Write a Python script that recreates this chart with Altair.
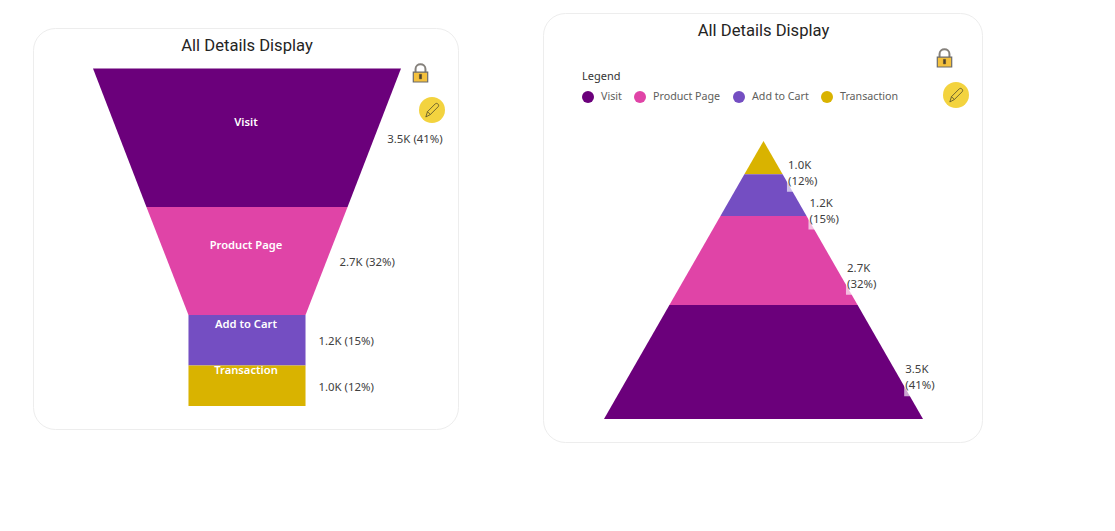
import altair as alt
import pandas as pd

stages = ["Visit", "Product Page", "Add to Cart", "Transaction"]
values = ["3.5K", "2.7K", "1.2K", "1.0K"]
shares = [41, 32, 15, 12]
funnel_top = [100, 65.3, 38, 38]
funnel_bottom = [65.3, 38, 38, 38]
colors = ["#6B007B", "#E044A7", "#744EC2", "#D9B300"]

LABEL_FONT = "Noto Sans"
TITLE_FONT = "Roboto"

fun, fun_lab = [], []
c = 0
for s, v, p, a, b in zip(stages, values, shares, funnel_top, funnel_bottom):
    fun.append(dict(stage=s, y=c, lo=-a / 2, hi=a / 2))
    fun.append(dict(stage=s, y=c + p, lo=-b / 2, hi=b / 2))
    fun_lab.append(dict(stage=s, y=c + p / 2, x=(a + b) / 4, label=f"{v} ({p}%)"))
    c += p
fun, fun_lab = pd.DataFrame(fun), pd.DataFrame(fun_lab)

pyr, pyr_lab = [], []
c = 0
for s, v, p in reversed(list(zip(stages, values, shares))):
    pyr.append(dict(stage=s, y=c, lo=-c / 2, hi=c / 2))
    pyr.append(dict(stage=s, y=c + p, lo=-(c + p) / 2, hi=(c + p) / 2))
    mid = c + p / 2 + 5.5
    pyr_lab.append(dict(stage=s, y=mid, x=mid / 2 + 1.95, px=mid / 2 + 1.6, px2=mid / 2 + 12,
                        y0=mid + 3.0, y1=mid + 6.8, label=f"{v}\n({p}%)"))
    c += p
pyr, pyr_lab = pd.DataFrame(pyr), pd.DataFrame(pyr_lab)

xF = alt.Scale(domain=[-50, 50], range=[85, 393])
yF = alt.Scale(domain=[0, 100], range=[60.5, 398])
xP = alt.Scale(domain=[-50, 50], range=[596, 915])
yP = alt.Scale(domain=[0, 100], range=[133, 411])


def card(x0, x1, y0, y1):
    return alt.Chart().mark_rect(fill="white", stroke="#EDEDED", strokeWidth=1, cornerRadius=22).encode(
        x=alt.value(x0), x2=alt.value(x1), y=alt.value(y0), y2=alt.value(y1))


def title(x, y):
    return alt.Chart().mark_text(text="All Details Display", font=TITLE_FONT, fontSize=16.6,
                                 color="#252423", align="center", baseline="middle").encode(
        x=alt.value(x), y=alt.value(y))


def shape(path, x, y, size, **kw):
    return alt.Chart().mark_point(shape=path, size=size, opacity=1, **kw).encode(
        x=alt.value(x), y=alt.value(y))


def lock(x, y):
    return [
        shape("M-0.55 0 V-0.45 C-0.55 -1.15 0.55 -1.15 0.55 -0.45 V0", x, y, 324,
              filled=False, stroke="#85817C", strokeWidth=2),
        shape("M-0.8 -0.1 H0.8 V1 H-0.8 Z", x, y, 324, filled=True, fill="#F4C13D",
              stroke="#6B6B6B", strokeWidth=1.2),
        shape("M-0.12 0.15 H0.12 V0.65 H-0.12 Z", x, y, 324, filled=True, fill="#4A4030",
              stroke="#4A4030", strokeWidth=0.5),
    ]


def pencil(x, y):
    return [
        alt.Chart().mark_circle(size=676, color="#F3D33F", opacity=1).encode(
            x=alt.value(x), y=alt.value(y)),
        shape("M-0.75 0.85 L-0.55 0.2 L0.4 -0.75 C0.6 -0.95 0.95 -0.6 0.75 -0.4 L-0.2 0.55 Z M-0.55 0.2 L-0.2 0.55",
              x, y, 270, filled=False, stroke="#4F4A2A", strokeWidth=0.8),
    ]


color_plain = alt.Color("stage:N", scale=alt.Scale(domain=stages, range=colors), legend=None)
color_legend = alt.Color("stage:N", scale=alt.Scale(domain=stages, range=colors), legend=alt.Legend(
    orient="none", legendX=574, legendY=63, direction="horizontal", title="Legend",
    titleFont=LABEL_FONT, titleFontSize=11, titleFontWeight="normal", titleColor="#333333", titlePadding=9,
    labelFont=LABEL_FONT, labelFontSize=10.7, labelColor="#605E5C", labelOffset=7,
    symbolType="circle", symbolSize=144, symbolStrokeWidth=0, symbolOpacity=1, columnPadding=12,
    columns=4))

funnel = alt.Chart(fun).mark_area(orient="horizontal", opacity=1).encode(
    y=alt.Y("y:Q", scale=yF, axis=None),
    x=alt.X("lo:Q", scale=xF, axis=None, stack=None),
    x2="hi:Q",
    color=color_plain)

funnel_names = alt.Chart(fun_lab).mark_text(font=LABEL_FONT, fontSize=11.2, fontWeight=600, color="white",
                                            yOffset=-15).encode(
    y=alt.Y("y:Q", scale=yF, axis=None),
    x=alt.value(238), text="stage:N")

funnel_values = alt.Chart(fun_lab).mark_text(font=LABEL_FONT, fontSize=11.4, color="#404040", align="left",
                                             dx=13, dy=2).encode(
    y=alt.Y("y:Q", scale=yF, axis=None),
    x=alt.X("x:Q", scale=xF, axis=None), text="label:N")

pyramid = alt.Chart(pyr).mark_area(orient="horizontal", opacity=1).encode(
    y=alt.Y("y:Q", scale=yP, axis=None),
    x=alt.X("lo:Q", scale=xP, axis=None, stack=None),
    x2="hi:Q",
    color=color_legend)

pyramid_patches = alt.Chart(pyr_lab).mark_rect(color="white", opacity=0.65).encode(
    y=alt.Y("y0:Q", scale=yP, axis=None), y2="y1:Q",
    x=alt.X("px:Q", scale=xP, axis=None), x2="px2:Q")

pyramid_values = alt.Chart(pyr_lab).mark_text(font=LABEL_FONT, fontSize=11.4, color="#404040", align="left",
                                              lineBreak="\n", lineHeight=16, dy=-7).encode(
    y=alt.Y("y:Q", scale=yP, axis=None),
    x=alt.X("x:Q", scale=xP, axis=None), text="label:N")

layers = [
    card(25.5, 450.5, 20.5, 421.5), card(535.5, 974.5, 5.5, 434.5),
    title(239, 37.5), title(755.5, 22.5),
    funnel, funnel_names, funnel_values,
    pyramid, pyramid_patches, pyramid_values,
    *lock(412.5, 65), *pencil(424, 102),
    *lock(936.5, 50), *pencil(948, 87),
]

chart = alt.layer(*layers).resolve_scale(x="independent", y="independent", color="independent").properties(
    width=1099, height=515, padding=0, autosize=alt.AutoSizeParams(type="none"), background="white"
).configure_view(stroke=None)

chart.save("out.html", embed_options={"renderer": "svg", "actions": False})
